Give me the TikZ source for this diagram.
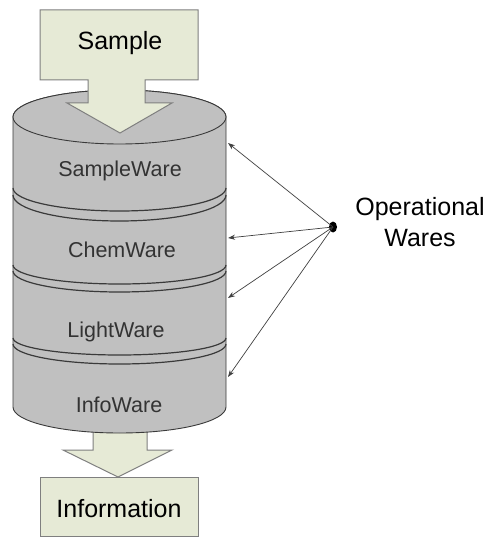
\documentclass[tikz,border=0pt]{standalone}
\usepackage{fontspec}
\setmainfont{Liberation Sans}
\usetikzlibrary{arrows.meta,shapes.geometric}

\definecolor{callout}{HTML}{E6EAD6}
\definecolor{calloutline}{HTML}{7F7F7F}
\definecolor{drum}{HTML}{C0C0C0}
\definecolor{drumline}{HTML}{3A3A3A}
\definecolor{waretext}{HTML}{333333}

\tikzset{
  callshape/.style={fill=callout, draw=calloutline, line width=1pt, line join=miter},
  drumbody/.style={fill=drum, draw=drumline, line width=0.9pt},
  ringline/.style={draw=drumline, line width=1.2pt},
  bigtext/.style={font=\fontsize{25}{30}\selectfont, text=black, anchor=base, inner sep=0pt},
  waretag/.style={font=\fontsize{21.5}{26}\selectfont, text=waretext, anchor=base, inner sep=0pt},
  opline/.style={draw=black!75, line width=0.7pt, -{Stealth[length=7pt,width=5pt]}},
}

\begin{document}
\begin{tikzpicture}[x=1pt,y=-1pt]
  \useasboundingbox (0,0) rectangle (491,537);
  \fill[white] (0,0) rectangle (491,537);

  % outgoing arrow (drawn first, it sits under the drum)
  \draw[callshape] (93,400) -- (147,400) -- (147,450) -- (172,450) -- (118,477)
        -- (63,450) -- (93,450) -- cycle;
  % result box
  \draw[callshape] (40,477) rectangle (198,536);
  \node[bigtext] (info) at (119,517) {Information};

  % drum body: left side, front bottom arc, right side, back top arc
  \draw[drumbody] (13,117) -- (13,407)
        arc[start angle=180, end angle=360, x radius=106.5pt, y radius=26pt]
        -- (226,117)
        arc[start angle=0, end angle=180, x radius=106.5pt, y radius=27pt] -- cycle;
  % drum lid
  \draw[drumbody] (119.5,117) ellipse[x radius=106.5pt, y radius=27pt];

  % ring grooves between the layers
  \draw[ringline] (13,188) arc[start angle=180, end angle=360, x radius=106.5pt, y radius=23pt];
  \draw[ringline] (13,195) arc[start angle=180, end angle=360, x radius=106.5pt, y radius=26pt];
  \draw[ringline] (13,265) arc[start angle=180, end angle=360, x radius=106.5pt, y radius=19pt];
  \draw[ringline] (13,271) arc[start angle=180, end angle=360, x radius=106.5pt, y radius=21pt];
  \draw[ringline] (13,338) arc[start angle=180, end angle=360, x radius=106.5pt, y radius=17pt];
  \draw[ringline] (13,344) arc[start angle=180, end angle=360, x radius=106.5pt, y radius=20pt];

  % layer labels
  \node[waretag] (sw) at (120,177) {SampleWare};
  \node[waretag] (cw) at (122,257) {ChemWare};
  \node[waretag] (lw) at (116,337) {LightWare};
  \node[waretag] (iw) at (119,412) {InfoWare};

  % incoming arrow
  \draw[callshape] (40,10) -- (198,10) -- (198,80) -- (145,80) -- (145,103)
        -- (172,103) -- (120,133) -- (67,103) -- (88,103) -- (88,80)
        -- (40,80) -- cycle;
  \node[bigtext] (sample) at (120,50) {Sample};

  % operational wares hub and its connectors
  \node[ellipse, fill=black, minimum width=8pt, minimum height=11pt, inner sep=0pt] (hub) at (333,227) {};
  \coordinate (e1) at (228,143);
  \coordinate (e2) at (228,238);
  \coordinate (e3) at (228,298);
  \coordinate (e4) at (228,377);
  \foreach \t in {e1,e2,e3,e4}
    \draw[opline] (hub.center) -- (\t);

  \node[bigtext] (opw1) at (420,215) {Operational};
  \node[bigtext] (opw2) at (420,246) {Wares};
\end{tikzpicture}
\end{document}
